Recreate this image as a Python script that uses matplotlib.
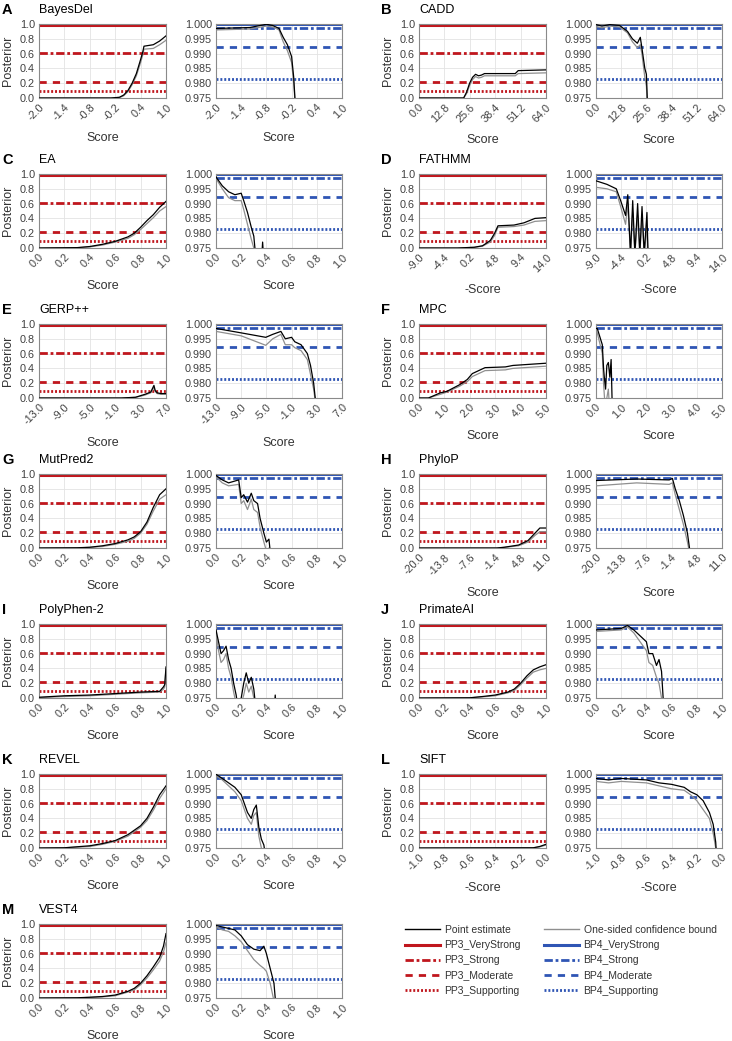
import matplotlib.pyplot as plt
from matplotlib.lines import Line2D

plt.rcParams['font.family'] = ['Liberation Sans', 'DejaVu Sans']

RED = '#c0161d'
BLUE = '#2f55b4'
GRAY = '#8f8f8f'

# threshold levels (VeryStrong, Strong, Moderate, Supporting)
pp3_levels = [0.981, 0.607, 0.211, 0.100]
bp4_levels = [0.99995, 0.9987, 0.9923, 0.9813]
level_names = ['VeryStrong', 'Strong', 'Moderate', 'Supporting']

# curves: (score, point estimate, one-sided bound)
bayesdel_left = ([-2.0, -0.3, -0.1, 0.0, 0.1, 0.2, 0.3, 0.4, 0.45, 0.48, 0.7, 0.85, 1.0],
                 [0, 0, 0.01, 0.04, 0.10, 0.20, 0.33, 0.52, 0.62, 0.70, 0.72, 0.77, 0.84],
                 [0, 0, 0.005, 0.03, 0.085, 0.18, 0.30, 0.48, 0.58, 0.66, 0.67, 0.72, 0.78])
bayesdel_right = ([-2.0, -1.2, -0.8, -0.65, -0.5, -0.4, -0.3, -0.2, -0.15, -0.1],
                  [0.9985, 0.9988, 0.9999, 0.9995, 0.9985, 0.9955, 0.993, 0.989, 0.982, 0.970],
                  [0.998, 0.9983, 0.9993, 0.999, 0.998, 0.994, 0.991, 0.987, 0.980, 0.970])

cadd_left = ([0, 22.5, 24, 25.5, 27, 28.5, 30, 31.5, 33, 48.5, 50, 64],
             [0, 0, 0.08, 0.20, 0.28, 0.32, 0.30, 0.31, 0.33, 0.33, 0.37, 0.38],
             [0, 0, 0.06, 0.17, 0.25, 0.29, 0.27, 0.28, 0.30, 0.30, 0.33, 0.34])
cadd_right = ([0, 3, 7, 12, 16, 18.5, 21, 22.5, 23.3, 24.8, 25.6, 26.3],
              [0.9998, 0.9993, 0.9998, 0.9995, 0.9975, 0.995, 0.9935, 0.9955, 0.992, 0.985, 0.983, 0.970],
              [0.9992, 0.9987, 0.9993, 0.999, 0.997, 0.994, 0.992, 0.993, 0.990, 0.982, 0.979, 0.970])

ea_left = ([0, 0.3, 0.4, 0.5, 0.6, 0.7, 0.75, 0.8, 0.85, 0.9, 0.95, 1.0],
           [0, 0.005, 0.02, 0.05, 0.09, 0.15, 0.20, 0.28, 0.37, 0.45, 0.55, 0.63],
           [0, 0.003, 0.015, 0.04, 0.08, 0.13, 0.18, 0.25, 0.33, 0.41, 0.50, 0.56])
ea_right = ([0, 0.05, 0.1, 0.15, 0.2, 0.22, 0.25, 0.28, 0.3, 0.32, 0.36, 0.37, 0.38],
            [0.999, 0.996, 0.994, 0.993, 0.9935, 0.991, 0.987, 0.982, 0.979, 0.970, 0.970, 0.977, 0.970],
            [0.9985, 0.995, 0.992, 0.991, 0.991, 0.988, 0.983, 0.978, 0.975, 0.970, 0.970, 0.970, 0.970])

fathmm_left = ([-9, -2, 1, 2.5, 3.9, 4.7, 5.3, 8.2, 10, 12, 14],
               [0, 0, 0.01, 0.03, 0.10, 0.20, 0.30, 0.31, 0.34, 0.40, 0.41],
               [0, 0, 0.008, 0.025, 0.08, 0.17, 0.28, 0.29, 0.31, 0.36, 0.37])
fathmm_right = ([-9, -7, -5.3, -4.5, -3.6, -3.2, -2.7, -2.3, -1.9, -1.4, -1.0, -0.6, -0.2, 0.3, 0.5],
                [0.9977, 0.9965, 0.995, 0.991, 0.986, 0.993, 0.973, 0.991, 0.973, 0.990, 0.973, 0.989, 0.973, 0.987, 0.973],
                [0.9955, 0.995, 0.994, 0.989, 0.983, 0.990, 0.973, 0.987, 0.973, 0.986, 0.973, 0.985, 0.973, 0.982, 0.973])

gerp_left = ([-13, 0, 2.2, 3.7, 4.6, 5.1, 5.3, 5.6, 6.2, 7],
             [0, 0, 0.01, 0.05, 0.08, 0.17, 0.10, 0.07, 0.06, 0.06],
             [0, 0, 0.008, 0.04, 0.07, 0.14, 0.09, 0.06, 0.05, 0.05])
gerp_right = ([-13, -9, -5.1, -4, -2.7, -2, -1, -0.5, 0.5, 1.5, 2, 2.5, 3.0],
              [0.9985, 0.997, 0.9955, 0.9965, 0.9975, 0.995, 0.9955, 0.994, 0.993, 0.990, 0.986, 0.980, 0.970],
              [0.9975, 0.996, 0.9928, 0.995, 0.9965, 0.993, 0.993, 0.992, 0.991, 0.988, 0.983, 0.978, 0.970])

mpc_left = ([0, 0.37, 0.84, 1.1, 1.6, 1.9, 2.1, 2.6, 3.4, 3.7, 5.0],
            [0, 0, 0.07, 0.09, 0.18, 0.25, 0.33, 0.41, 0.42, 0.44, 0.47],
            [0, 0, 0.05, 0.08, 0.16, 0.22, 0.29, 0.37, 0.38, 0.40, 0.43])
mpc_right = ([0.0, 0.05, 0.25, 0.3, 0.33, 0.38, 0.43, 0.49, 0.55, 0.6, 0.65],
             [0.9985, 0.9985, 0.993, 0.985, 0.982, 0.978, 0.986, 0.987, 0.982, 0.988, 0.970],
             [0.998, 0.997, 0.990, 0.980, 0.976, 0.970, 0.975, 0.978, 0.970, 0.970, 0.970])

mutpred_left = ([0, 0.3, 0.4, 0.5, 0.6, 0.7, 0.75, 0.8, 0.85, 0.9, 0.95, 1.0],
                [0, 0.003, 0.01, 0.03, 0.06, 0.11, 0.15, 0.22, 0.35, 0.55, 0.72, 0.80],
                [0, 0.002, 0.008, 0.02, 0.05, 0.09, 0.13, 0.20, 0.32, 0.50, 0.66, 0.72])
mutpred_right = ([0, 0.05, 0.1, 0.18, 0.2, 0.22, 0.25, 0.28, 0.3, 0.33, 0.35, 0.38, 0.4, 0.42, 0.44],
                 [0.9995, 0.998, 0.997, 0.998, 0.992, 0.993, 0.9905, 0.9935, 0.991, 0.990, 0.985, 0.980, 0.977, 0.978, 0.970],
                 [0.999, 0.997, 0.996, 0.9965, 0.990, 0.991, 0.988, 0.9915, 0.988, 0.987, 0.982, 0.977, 0.974, 0.975, 0.970])

phylop_left = ([-20, -1, 0.8, 4.3, 6.6, 8.3, 9.5, 11],
               [0, 0, 0.01, 0.04, 0.10, 0.20, 0.27, 0.27],
               [0, 0, 0.008, 0.03, 0.08, 0.17, 0.22, 0.22])
phylop_right = ([-20, -10, -2, -1.2, -0.5, 0.5, 1.5, 2.5, 3.5],
                [0.9978, 0.9983, 0.998, 0.9985, 0.995, 0.991, 0.986, 0.980, 0.970],
                [0.996, 0.997, 0.9965, 0.997, 0.993, 0.988, 0.983, 0.977, 0.970])

polyphen_left = ([0, 0.2, 0.4, 0.6, 0.8, 0.95, 0.98, 0.99, 1.0],
                 [0.01, 0.03, 0.04, 0.06, 0.08, 0.09, 0.15, 0.18, 0.42],
                 [0.005, 0.02, 0.03, 0.05, 0.07, 0.08, 0.12, 0.15, 0.40])
polyphen_right = ([0, 0.02, 0.04, 0.06, 0.08, 0.1, 0.12, 0.14, 0.16, 0.18, 0.22, 0.24, 0.26, 0.28, 0.3, 0.32,
                   0.46, 0.47, 0.48],
                  [0.998, 0.994, 0.990, 0.991, 0.9925, 0.988, 0.985, 0.980, 0.976, 0.970, 0.980, 0.9835, 0.980,
                   0.982, 0.978, 0.970, 0.970, 0.976, 0.970],
                  [0.997, 0.991, 0.987, 0.988, 0.990, 0.985, 0.982, 0.977, 0.973, 0.970, 0.976, 0.980, 0.977,
                   0.979, 0.975, 0.970, 0.970, 0.970, 0.970])

primateai_left = ([0, 0.4, 0.5, 0.6, 0.7, 0.75, 0.8, 0.85, 0.9, 0.95, 1.0],
                  [0, 0.003, 0.02, 0.04, 0.08, 0.12, 0.20, 0.30, 0.38, 0.42, 0.45],
                  [0, 0.002, 0.015, 0.03, 0.07, 0.10, 0.18, 0.27, 0.35, 0.38, 0.40])
primateai_right = ([0, 0.2, 0.25, 0.3, 0.35, 0.4, 0.42, 0.45, 0.48, 0.5, 0.52, 0.54],
                   [0.998, 0.9985, 0.9995, 0.998, 0.996, 0.994, 0.990, 0.990, 0.986, 0.988, 0.984, 0.970],
                   [0.9975, 0.998, 0.999, 0.997, 0.994, 0.991, 0.987, 0.986, 0.982, 0.980, 0.975, 0.970])

revel_left = ([0, 0.2, 0.4, 0.5, 0.6, 0.7, 0.8, 0.85, 0.9, 0.95, 1.0],
              [0, 0.003, 0.03, 0.06, 0.10, 0.18, 0.30, 0.40, 0.55, 0.72, 0.84],
              [0, 0.002, 0.02, 0.05, 0.09, 0.16, 0.28, 0.37, 0.51, 0.67, 0.80])
revel_right = ([0, 0.05, 0.1, 0.15, 0.2, 0.25, 0.28, 0.3, 0.32, 0.34, 0.36, 0.38, 0.4],
               [0.9999, 0.9985, 0.997, 0.9955, 0.993, 0.987, 0.985, 0.988, 0.9895, 0.982, 0.978, 0.976, 0.970],
               [0.9995, 0.998, 0.996, 0.994, 0.991, 0.985, 0.983, 0.986, 0.987, 0.979, 0.975, 0.970, 0.970])

sift_left = ([-1.0, -0.1, -0.05, 0.0],
             [0, 0.003, 0.02, 0.05],
             [0, 0.002, 0.015, 0.04])
sift_right = ([-1.0, -0.9, -0.8, -0.6, -0.5, -0.4, -0.3, -0.25, -0.2, -0.15, -0.1, -0.07, -0.05, -0.04],
              [0.9985, 0.998, 0.9985, 0.998, 0.997, 0.9965, 0.9955, 0.994, 0.993, 0.991, 0.987, 0.983, 0.977, 0.970],
              [0.9975, 0.997, 0.9975, 0.997, 0.996, 0.995, 0.9945, 0.993, 0.991, 0.988, 0.985, 0.980, 0.975, 0.970])

vest4_left = ([0, 0.3, 0.4, 0.5, 0.6, 0.7, 0.75, 0.8, 0.85, 0.9, 0.95, 0.98, 1.0],
              [0, 0.003, 0.01, 0.02, 0.04, 0.09, 0.13, 0.20, 0.30, 0.42, 0.55, 0.70, 0.87],
              [0, 0.002, 0.008, 0.015, 0.03, 0.08, 0.11, 0.18, 0.27, 0.38, 0.50, 0.62, 0.75])
vest4_right = ([0, 0.05, 0.1, 0.15, 0.2, 0.25, 0.3, 0.35, 0.38, 0.4, 0.43, 0.46, 0.48],
               [0.9995, 0.999, 0.9985, 0.998, 0.996, 0.993, 0.9915, 0.991, 0.9925, 0.990, 0.985, 0.980, 0.970],
               [0.999, 0.998, 0.9975, 0.996, 0.994, 0.991, 0.988, 0.986, 0.985, 0.984, 0.980, 0.974, 0.970])

panels = [
    ('A', 'BayesDel', 'Score', [-2.0, -1.4, -0.8, -0.2, 0.4, 1.0], bayesdel_left, bayesdel_right),
    ('B', 'CADD', 'Score', [0.0, 12.8, 25.6, 38.4, 51.2, 64.0], cadd_left, cadd_right),
    ('C', 'EA', 'Score', [0.0, 0.2, 0.4, 0.6, 0.8, 1.0], ea_left, ea_right),
    ('D', 'FATHMM', '-Score', [-9.0, -4.4, 0.2, 4.8, 9.4, 14.0], fathmm_left, fathmm_right),
    ('E', 'GERP++', 'Score', [-13.0, -9.0, -5.0, -1.0, 3.0, 7.0], gerp_left, gerp_right),
    ('F', 'MPC', 'Score', [0.0, 1.0, 2.0, 3.0, 4.0, 5.0], mpc_left, mpc_right),
    ('G', 'MutPred2', 'Score', [0.0, 0.2, 0.4, 0.6, 0.8, 1.0], mutpred_left, mutpred_right),
    ('H', 'PhyloP', 'Score', [-20.0, -13.8, -7.6, -1.4, 4.8, 11.0], phylop_left, phylop_right),
    ('I', 'PolyPhen-2', 'Score', [0.0, 0.2, 0.4, 0.6, 0.8, 1.0], polyphen_left, polyphen_right),
    ('J', 'PrimateAI', 'Score', [0.0, 0.2, 0.4, 0.6, 0.8, 1.0], primateai_left, primateai_right),
    ('K', 'REVEL', 'Score', [0.0, 0.2, 0.4, 0.6, 0.8, 1.0], revel_left, revel_right),
    ('L', 'SIFT', '-Score', [-1.0, -0.8, -0.6, -0.4, -0.2, 0.0], sift_left, sift_right),
    ('M', 'VEST4', 'Score', [0.0, 0.2, 0.4, 0.6, 0.8, 1.0], vest4_left, vest4_right),
]

line_styles = ['-', (0, (3, 1, 1, 1)), (0, (2.6, 2.2)), (0, (0.7, 0.7))]
line_widths = [2.2, 2.0, 2.0, 2.0]

W, H = 732, 1041
fig = plt.figure(figsize=(W / 100, H / 100), dpi=100)


def add_ax(x, y, w, h):
    return fig.add_axes([x / W, 1 - (y + h) / H, w / W, h / H])


def style_ax(ax, ticks, xlabel):
    ax.set_xlim(ticks[0], ticks[-1])
    ax.set_xticks(ticks)
    ax.set_xticklabels(['%.1f' % t for t in ticks], rotation=45, ha='right',
                       va='top', rotation_mode='anchor')
    ax.set_xlabel(xlabel, fontsize=9, color='#333333', labelpad=7)
    ax.grid(True, color='#e3e3e3', lw=0.6)
    ax.set_axisbelow(True)
    ax.tick_params(length=0, labelsize=7.8, colors='#404040', pad=3)
    for s in ax.spines.values():
        s.set_color('#8a8a8a')
        s.set_linewidth(0.8)


for i, (letter, name, xlabel, ticks, left, right) in enumerate(panels):
    col, row = i % 2, i // 2
    top = 24 + 150 * row
    xl = 39 + 380 * col
    xr = 216 + 380 * col

    ax1 = add_ax(xl, top, 127, 74)
    for lev, ls, lw in zip(pp3_levels, line_styles, line_widths):
        ax1.axhline(lev, color=RED, ls=ls, lw=lw, zorder=2)
    ax1.plot(left[0], left[2], color=GRAY, lw=0.9, zorder=3)
    ax1.plot(left[0], left[1], color='black', lw=0.9, zorder=4)
    ax1.set_ylim(0, 1.0)
    ax1.set_yticks([0, 0.2, 0.4, 0.6, 0.8, 1.0])
    ax1.set_yticklabels(['0.0', '0.2', '0.4', '0.6', '0.8', '1.0'])
    ax1.set_ylabel('Posterior', fontsize=9, color='#333333')
    ax1.yaxis.set_label_coords(-25 / 127, 0.5)
    style_ax(ax1, ticks, xlabel)

    ax2 = add_ax(xr, top, 126, 74)
    for lev, ls, lw in zip(bp4_levels, line_styles, line_widths):
        ax2.axhline(lev, color=BLUE, ls=ls, lw=lw, zorder=2)
    ax2.plot(right[0], right[2], color=GRAY, lw=0.9, zorder=3)
    ax2.plot(right[0], right[1], color='black', lw=0.9, zorder=4)
    ax2.set_ylim(0.975, 1.0)
    yt = [0.975, 0.980, 0.985, 0.990, 0.995, 1.000]
    ax2.set_yticks(yt)
    ax2.set_yticklabels(['%.3f' % v for v in yt])
    style_ax(ax2, ticks, xlabel)

    fig.text((2 + 379 * col) / W, 1 - 10 / H - 150 * row / H, letter, fontsize=10.5,
             fontweight='bold', va='center', ha='left')
    fig.text(xl / W, 1 - 10 / H - 150 * row / H, name, fontsize=9, va='center', ha='left')

# legend
handles = [Line2D([], [], color='black', lw=1)]
labels = ['Point estimate']
for ls, lw, nm in zip(line_styles, line_widths, level_names):
    handles.append(Line2D([], [], color=RED, ls=ls, lw=lw))
    labels.append('PP3_' + nm)
handles.append(Line2D([], [], color=GRAY, lw=1))
labels.append('One-sided confidence bound')
for ls, lw, nm in zip(line_styles, line_widths, level_names):
    handles.append(Line2D([], [], color=BLUE, ls=ls, lw=lw))
    labels.append('BP4_' + nm)

fig.legend(handles, labels, ncol=2, loc='upper left', bbox_to_anchor=(405 / W, 1 - 925 / H),
           frameon=False, fontsize=7.5, handlelength=3.4, handletextpad=0.4,
           columnspacing=2.2, labelspacing=0.5, borderpad=0, borderaxespad=0,
           labelcolor='#333333')

fig.savefig('out.png', dpi=100)
